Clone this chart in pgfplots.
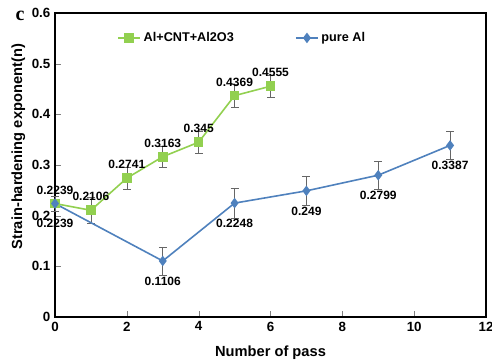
\documentclass[border=0pt]{standalone}
\usepackage{pgfplots}
\usepackage{pgfplotstable}
\pgfplotsset{compat=1.18}
\usepackage{fontspec}
\setmainfont{Liberation Sans}
\newfontfamily\seriff{Liberation Serif}
\definecolor{cgreen}{RGB}{146,208,80}
\definecolor{cblue}{RGB}{79,129,189}
\pgfplotstableread{
x y e lab
0 0.2239 0.015 0.2239
1 0.2106 0.025 0.2106
2 0.2741 0.022 0.2741
3 0.3163 0.020 0.3163
4 0.3450 0.022 0.345
5 0.4369 0.022 0.4369
6 0.4555 0.022 0.4555
}\green
\pgfplotstableread{
x y e lab
0 0.2239 0.015 0.2239
3 0.1106 0.028 0.1106
5 0.2248 0.030 0.2248
7 0.2490 0.028 0.249
9 0.2799 0.028 0.2799
11 0.3387 0.028 0.3387
}\blue
\begin{document}
\begin{tikzpicture}
\begin{axis}[
  scale only axis,
  width=323.25pt, height=228pt,
  xmin=0, xmax=12, ymin=0, ymax=0.6,
  xtick={0,2,...,12}, ytick={0,0.1,...,0.6},
  xtick pos=bottom, ytick pos=left,
  axis line style={black, line width=1.2pt},
  /pgf/number format/assume math mode=true,
  tick label style={font=\bfseries\fontsize{10}{12}\selectfont},
  yticklabel style={/pgf/number format/fixed},
  xlabel={\bfseries Number of pass},
  ylabel={\bfseries Strain-hardening exponent(n)},
  label style={font=\bfseries\fontsize{11}{13}\selectfont},
  ylabel style={at={(ticklabel cs:0.56)}, yshift=-2pt},
  xlabel style={yshift=-4pt},
  legend style={draw=none, fill=none, at={(rel axis cs:0.135,0.918)}, anchor=west, font=\bfseries\fontsize{9.5}{11}\selectfont, /tikz/every even column/.append style={column sep=44pt}},
  legend columns=2,
  legend image code/.code={\draw[#1] (0pt,0pt) -- (0.58cm,0pt); \path[#1, only marks] plot coordinates {(0.29cm,0pt)};},
  nodes near coords,
  point meta=explicit symbolic,
  every node near coord/.append style={font=\bfseries\fontsize{9}{11}\selectfont, black},
  clip=false,
]
\addplot[color=cgreen, line width=1.2pt, mark=square*, mark size=3pt, mark options={fill=cgreen},
  every node near coord/.append style={yshift=3pt},
  error bars/.cd, y dir=both, y explicit, error mark=-, error bar style={gray!80!black, line width=0.5pt}]
  table[x=x, y=y, y error=e, meta=lab] {\green};
\addlegendentry{Al+CNT+Al2O3}
\addplot[color=cblue, line width=1.2pt, mark=diamond*, mark size=3pt, mark options={fill=cblue},
  every node near coord/.append style={anchor=north, yshift=-8pt},
  error bars/.cd, y dir=both, y explicit, error mark=-, error bar style={gray!80!black, line width=0.5pt}]
  table[x=x, y=y, y error=e, meta=lab] {\blue};
\addlegendentry{pure Al}
\node[font=\seriff\bfseries\fontsize{15}{17}\selectfont] at (rel axis cs:-0.081,0.99) {c};
\coordinate (bl) at (rel axis cs:0,0);
\coordinate (tr) at (rel axis cs:1,1);
\end{axis}
\pgfresetboundingbox
\path ([shift={(-41.25pt,-32.25pt)}]bl) rectangle ([shift={(4.5pt,9.75pt)}]tr);
\end{tikzpicture}
\end{document}
